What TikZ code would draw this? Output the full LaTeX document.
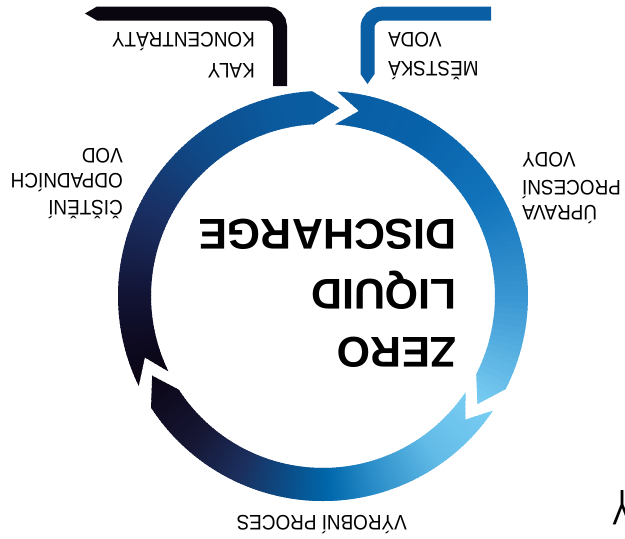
\documentclass[tikz,border=0pt]{standalone}
\usepackage{fontspec}
\setmainfont{Liberation Sans}
\definecolor{pipeblue}{HTML}{0A5EA3}
\definecolor{pipeblack}{HTML}{0A0610}
% ring colour stops
\definecolor{ra}{HTML}{0A5EA3}
\definecolor{rb}{HTML}{0862AA}
\definecolor{rc}{HTML}{1274BC}
\definecolor{rd}{HTML}{3A96D2}
\definecolor{re}{HTML}{7BCFF3}
\definecolor{ba}{HTML}{79CDF2}
\definecolor{bb}{HTML}{62BBE7}
\definecolor{bc}{HTML}{2A8CC8}
\definecolor{bd}{HTML}{0068AC}
\definecolor{be}{HTML}{0A4F8A}
\definecolor{bf}{HTML}{1B2F5E}
\definecolor{bg}{HTML}{161633}
\definecolor{bh}{HTML}{0A0414}
\definecolor{la}{HTML}{0A0312}
\definecolor{lb}{HTML}{121434}
\definecolor{lc}{HTML}{1A2E62}
\definecolor{ld}{HTML}{0F4A88}
\definecolor{le}{HTML}{0A5A9E}
\definecolor{lf}{HTML}{0A5EA3}
\newcommand\Ro{205}
\newcommand\Ri{172}
\newcommand\Rm{188.5}
\newcommand\segpath[2]{(#1:\Ro) arc[start angle=#1, end angle=#2, radius=\Ro] -- ({#2+8}:\Rm) -- (#2:\Ri) arc[start angle=#2, end angle=#1, radius=\Ri] -- ({#1+7}:\Rm) -- cycle}
\newcommand\gradseg[1]{%
  \foreach \aa/\bb/\ca/\cb in {#1}{%
    \pgfmathsetmacro\myd{(\bb-\aa)/20}%
    \foreach \i in {0,...,19}{%
      \pgfmathsetmacro\angA{\aa+\i*\myd}%
      \pgfmathsetmacro\angB{\aa+(\i+1)*\myd+0.4}%
      \pgfmathtruncatemacro\mixp{100*(\i+0.5)/20}%
      \colorlet{segc}{\cb!\mixp!\ca}%
      \fill[segc] (0,0) -- (\angA:222) -- (\angB:222) -- cycle;
    }}}
\tikzset{
  lbl/.style={font=\fontsize{21}{25}\selectfont, rotate=180, inner sep=0pt, xscale=0.9, text=black},
  ttl/.style={font=\bfseries\fontsize{43}{50}\selectfont, rotate=180, inner sep=0pt, text=black},
  pipe/.style={line width=14pt},
}
\begin{document}
\begin{tikzpicture}[x=1pt,y=-1pt]
\useasboundingbox (0,0) rectangle (625,539);
\fill[white] (0,0) rectangle (625,539);

% ring
\begin{scope}[shift={(323,296)}]
  \begin{scope}
    \clip \segpath{274}{387};
    \gradseg{274/300/ra/rb, 300/330/rb/rc, 330/360/rc/rd, 360/396/rd/re}
  \end{scope}
  \begin{scope}
    \clip \segpath{34}{147};
    \gradseg{34/55/ba/bb, 55/75/bb/bc, 75/88/bc/bd, 88/100/bd/be, 100/115/be/bf, 115/132/bf/bg, 132/156/bg/bh}
  \end{scope}
  \begin{scope}
    \clip \segpath{154}{267};
    \gradseg{154/180/la/lb, 180/205/lb/lc, 205/230/lc/ld, 230/255/ld/le, 255/276/le/lf}
  \end{scope}
\end{scope}

% pipes
\coordinate (kin) at (280,86);
\coordinate (kcorner) at (280,13.5);
\coordinate (kend) at (97,13.5);
\coordinate (ktip) at (85,13.5);
\draw[pipe, pipeblack, rounded corners=13pt] (kin) -- (kcorner) -- (kend);
\fill[pipeblack] (97,6.5) -- (ktip) -- (97,20.5) -- cycle;

\coordinate (mstart) at (491,13.7);
\coordinate (mcorner) at (367.5,13.7);
\coordinate (mend) at (367.5,74);
\coordinate (mtip) at (367.5,84);
\draw[pipe, pipeblue, rounded corners=14pt] (mstart) -- (mcorner) -- (mend);
\fill[pipeblue] (360.5,74) -- (mtip) -- (374.5,74) -- cycle;

% title
\node[ttl, anchor=base west] (zero) at (457,337) {ZERO};
\node[ttl, anchor=base west] (liquid) at (457,279) {LIQUID};
\node[ttl, anchor=base west] (discharge) at (457,219) {DISCHARGE};

% labels
\node[lbl, anchor=base west] (kaly) at (255,63) {KALY};
\node[lbl, anchor=base west] (konc) at (255,32) {KONCENTRÁTY};
\node[lbl, anchor=base east] (mest) at (388,61) {MĚSTSKÁ};
\node[lbl, anchor=base east] (voda) at (388,32) {VODA};
\node[lbl, anchor=base west] (cist) at (123,200) {ČIŠTĚNÍ};
\node[lbl, anchor=base west] (odp) at (123,173) {ODPADNÍCH};
\node[lbl, anchor=base west] (vod) at (123,148) {VOD};
\node[lbl, anchor=base east] (upr) at (522,205) {ÚPRAVA};
\node[lbl, anchor=base east] (proc) at (522,180) {PROCESNÍ};
\node[lbl, anchor=base east] (vody) at (522,152) {VODY};
\node[lbl, anchor=base west] (vyr) at (407,515) {VÝROBNÍ PROCES};
\node[font=\fontsize{50}{50}\selectfont, rotate=180, xscale=0.6, inner sep=0pt, anchor=base] (ystray) at (622.5,490) {Y};
\end{tikzpicture}
\end{document}
